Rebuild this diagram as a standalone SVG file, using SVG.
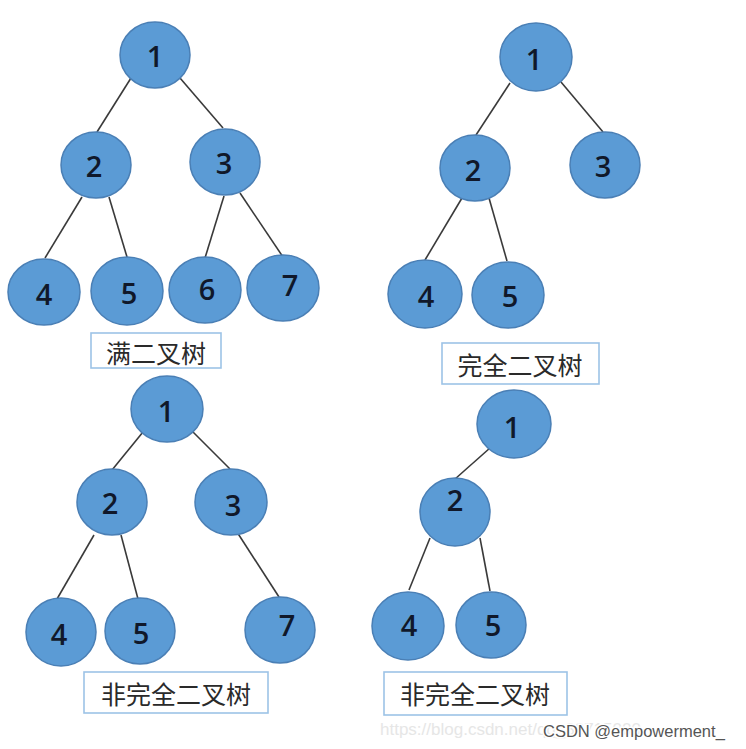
<svg xmlns="http://www.w3.org/2000/svg" width="746" height="749" viewBox="0 0 746 749">
<style>
.n ellipse{fill:#5b9bd5;stroke:#4a7fb5;stroke-width:1.5}
.n text{font-family:"Open Sans","Liberation Sans",sans-serif;font-weight:600;font-size:29px;fill:#10182a;text-anchor:middle;dominant-baseline:central}
.e line{stroke:#3a3a3a;stroke-width:1.6}
.lb rect{fill:#fff;stroke:#9dc3e6;stroke-width:1.6}
.lb text{font-family:"Noto Sans CJK SC",sans-serif;font-size:25px;fill:#2a2a2a;text-anchor:middle;dominant-baseline:central}
</style>
<rect width="746" height="749" fill="#fff"/>
<g id="connectors" class="e">
<line x1="131" y1="78" x2="97" y2="132"/>
<line x1="180" y1="78" x2="223" y2="128"/>
<line x1="82" y1="197" x2="45" y2="258"/>
<line x1="109" y1="197" x2="127" y2="257"/>
<line x1="224" y1="196" x2="205" y2="258"/>
<line x1="240" y1="193" x2="283" y2="257"/>
<line x1="510" y1="83" x2="476" y2="135"/>
<line x1="561" y1="82" x2="603" y2="132"/>
<line x1="462" y1="198" x2="425" y2="260"/>
<line x1="489" y1="198" x2="507" y2="261"/>
<line x1="143" y1="432" x2="112" y2="470"/>
<line x1="193" y1="432" x2="230" y2="469"/>
<line x1="94" y1="535" x2="57" y2="599"/>
<line x1="121" y1="535" x2="138" y2="599"/>
<line x1="237" y1="532" x2="279" y2="597"/>
<line x1="490" y1="448" x2="455" y2="479"/>
<line x1="430" y1="538" x2="409" y2="590"/>
<line x1="480" y1="538" x2="490" y2="591"/>
</g>
<g id="t1n1" class="n"><ellipse cx="155" cy="55" rx="35" ry="33"/><text x="155" y="55">1</text></g>
<g id="t1n2" class="n"><ellipse cx="96" cy="165" rx="35" ry="33"/><text x="94" y="165">2</text></g>
<g id="t1n3" class="n"><ellipse cx="225" cy="162" rx="35" ry="33"/><text x="224" y="162">3</text></g>
<g id="t1n4" class="n"><ellipse cx="44" cy="292" rx="36" ry="33"/><text x="44" y="293">4</text></g>
<g id="t1n5" class="n"><ellipse cx="127" cy="291" rx="36" ry="34"/><text x="129" y="292">5</text></g>
<g id="t1n6" class="n"><ellipse cx="205" cy="290" rx="36" ry="33"/><text x="207" y="288">6</text></g>
<g id="t1n7" class="n"><ellipse cx="283" cy="288" rx="36" ry="33"/><text x="290" y="284">7</text></g>
<g id="t1label" class="lb"><rect x="91" y="333" width="130" height="35"/><text x="156" y="352">满二叉树</text></g>
<g id="t2n1" class="n"><ellipse cx="536" cy="57" rx="36" ry="34"/><text x="534" y="58">1</text></g>
<g id="t2n2" class="n"><ellipse cx="475" cy="168" rx="35" ry="33"/><text x="473" y="169">2</text></g>
<g id="t2n3" class="n"><ellipse cx="605" cy="165" rx="35" ry="33"/><text x="603" y="165">3</text></g>
<g id="t2n4" class="n"><ellipse cx="425" cy="294" rx="37" ry="34"/><text x="426" y="295">4</text></g>
<g id="t2n5" class="n"><ellipse cx="508" cy="295" rx="36" ry="33"/><text x="510" y="295">5</text></g>
<g id="t2label" class="lb"><rect x="442" y="343" width="157" height="41"/><text x="520" y="364">完全二叉树</text></g>
<g id="t3n1" class="n"><ellipse cx="167" cy="409" rx="36" ry="33"/><text x="166" y="410">1</text></g>
<g id="t3n2" class="n"><ellipse cx="112" cy="502" rx="35" ry="33"/><text x="110" y="502">2</text></g>
<g id="t3n3" class="n"><ellipse cx="231" cy="502" rx="36" ry="33"/><text x="233" y="504">3</text></g>
<g id="t3n4" class="n"><ellipse cx="61" cy="632" rx="35" ry="34"/><text x="59" y="633">4</text></g>
<g id="t3n5" class="n"><ellipse cx="140" cy="631" rx="35" ry="33"/><text x="141" y="632">5</text></g>
<g id="t3n7" class="n"><ellipse cx="280" cy="630" rx="35" ry="33"/><text x="287" y="624">7</text></g>
<g id="t3label" class="lb"><rect x="84" y="672" width="184" height="41"/><text x="176" y="693">非完全二叉树</text></g>
<g id="t4n1" class="n"><ellipse cx="514" cy="424" rx="37" ry="34"/><text x="512" y="426">1</text></g>
<g id="t4n2" class="n"><ellipse cx="455" cy="512" rx="35" ry="34"/><text x="455" y="499">2</text></g>
<g id="t4n4" class="n"><ellipse cx="408" cy="626" rx="36" ry="34"/><text x="409" y="624">4</text></g>
<g id="t4n5" class="n"><ellipse cx="491" cy="625" rx="35" ry="33"/><text x="493" y="624">5</text></g>
<g id="t4label" class="lb"><rect x="384" y="672" width="183" height="43"/><text x="475" y="693">非完全二叉树</text></g>
<text x="380" y="735" font-family="'Liberation Sans',sans-serif" font-size="17" fill="#e6e6e6">https://blog.csdn.net/qq_30715000</text>
<text x="543" y="737" font-family="'Liberation Sans',sans-serif" font-size="16.5" fill="#555" stroke="#fff" stroke-width="3" paint-order="stroke">CSDN @empowerment_</text>
</svg>
